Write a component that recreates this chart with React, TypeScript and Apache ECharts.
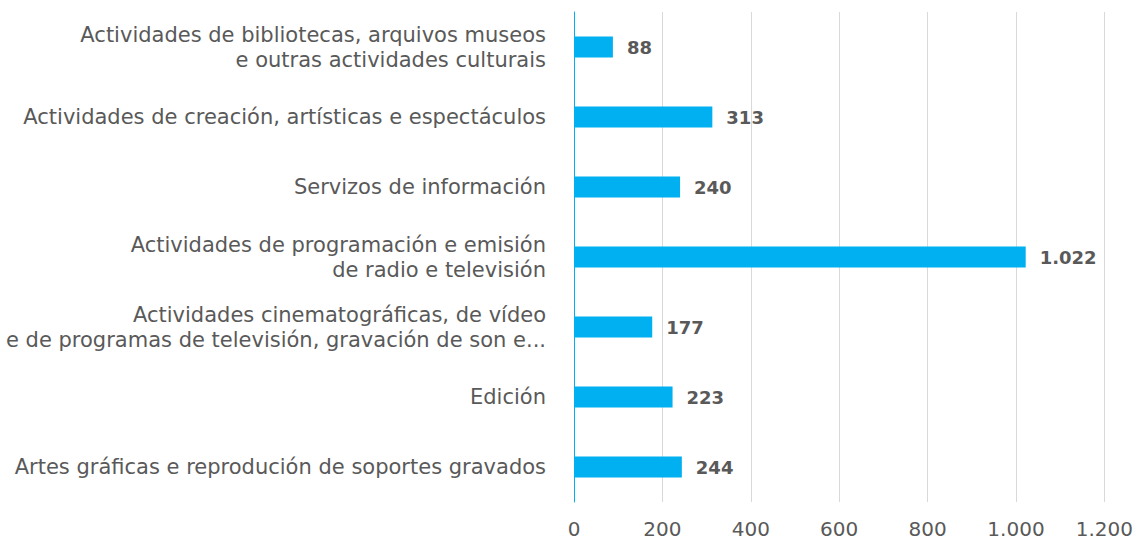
import React, { useEffect, useRef } from "react";
import * as echarts from "echarts";

const categories = [
  "Actividades de bibliotecas, arquivos museos\ne outras actividades culturais",
  "Actividades de creación, artísticas e espectáculos",
  "Servizos de información",
  "Actividades de programación e emisión\nde radio e televisión",
  "Actividades cinematográficas, de vídeo\ne de programas de televisión, gravación de son e...",
  "Edición",
  "Artes gráficas e reprodución de soportes gravados",
];
const values = [88, 313, 240, 1022, 177, 223, 244];
const xTicks = [0, 200, 400, 600, 800, 1000, 1200];

const fmt = (v: number) =>
  String(v).replace(/\B(?=(\d{3})+(?!\d))/g, ".");

const FONT = "'DejaVu Sans', sans-serif";
const TEXT = "#595959";

export default function App() {
  const ref = useRef<HTMLDivElement>(null);
  useEffect(() => {
    if (!ref.current) return;
    const chart = echarts.init(ref.current, undefined, { renderer: "svg" });
    chart.setOption({
      animation: false,
      backgroundColor: "#ffffff",
      grid: { left: 574, right: 29, top: 12, bottom: 38, containLabel: false },
      xAxis: {
        type: "value",
        min: xTicks[0],
        max: xTicks[xTicks.length - 1],
        interval: 200,
        axisLine: { show: false },
        axisTick: { show: false },
        splitLine: { show: true, lineStyle: { color: "#d9d9d9", width: 1 } },
        axisLabel: {
          color: TEXT,
          fontFamily: FONT,
          fontSize: 20,
          margin: 17,
          formatter: (v: number) => fmt(v),
        },
      },
      yAxis: {
        type: "category",
        inverse: true,
        data: categories,
        axisLine: { show: true, lineStyle: { color: "#00b0f0", width: 1 } },
        axisTick: { show: false },
        axisLabel: {
          color: TEXT,
          fontFamily: FONT,
          fontSize: 21,
          margin: 28,
          lineHeight: 25,
          align: "right",
        },
      },
      series: [
        {
          type: "bar",
          data: values,
          barWidth: 21,
          itemStyle: { color: "#00b0f0" },
          label: {
            show: true,
            position: "right",
            distance: 14,
            color: TEXT,
            fontFamily: FONT,
            fontSize: 18,
            fontWeight: "bold",
            formatter: (p: any) => fmt(p.value),
          },
        },
      ],
    });
    return () => chart.dispose();
  }, []);
  return (
    <div
      ref={ref}
      style={{ position: "fixed", left: 0, top: 0, width: 1136, height: 540 }}
    />
  );
}
